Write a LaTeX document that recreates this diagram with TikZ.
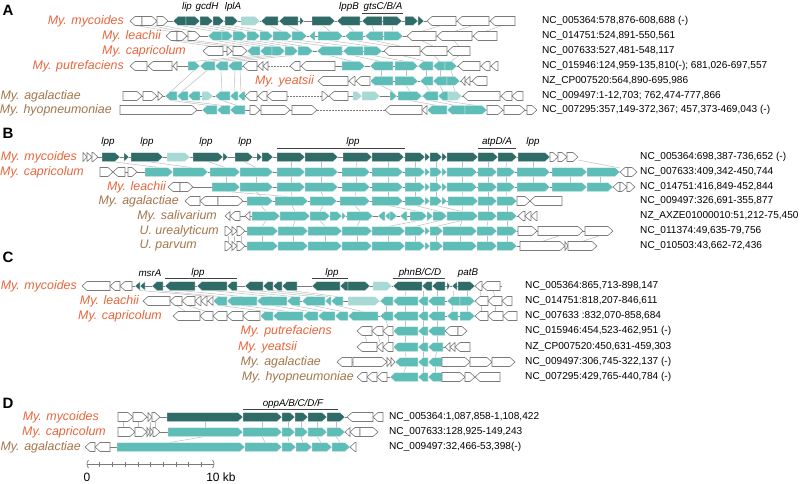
\documentclass[tikz,border=0pt]{standalone}
\usepackage{fontspec}
\setmainfont{Liberation Sans}
\definecolor{gdark}{HTML}{2F6B67}
\definecolor{gteal}{HTML}{5EBDB6}
\definecolor{gpale}{HTML}{A9D9D4}
\definecolor{gline}{HTML}{7A7A7A}
\definecolor{homc}{HTML}{BDBDBD}
\definecolor{orangec}{HTML}{E8653B}
\definecolor{brownc}{HTML}{A2764A}
\newcommand{\spfont}{\fontsize{12.4}{14}\selectfont\itshape}
\newcommand{\accfont}{\fontsize{10.1}{12}\selectfont}
\newcommand{\glfont}{\fontsize{9.8}{11}\selectfont\itshape}
\newcommand{\pfont}{\fontsize{15}{17}\selectfont\bfseries}
\newcommand{\gR}[4]{%
  \pgfmathsetmacro\gA{min(5,#2-#1)}%
  \path[#4] (#1,#3-4.5) -- (#2-\gA,#3-4.5) -- (#2,#3) -- (#2-\gA,#3+4.5) -- (#1,#3+4.5) -- cycle;}
\newcommand{\gL}[4]{%
  \pgfmathsetmacro\gA{min(5,#2-#1)}%
  \path[#4] (#2,#3-4.5) -- (#1+\gA,#3-4.5) -- (#1,#3) -- (#1+\gA,#3+4.5) -- (#2,#3+4.5) -- cycle;}
\newcommand{\grow}[2]{\foreach \xa/\xb/\xd/\xs in {#2}{\csname g\xd\endcsname{\xa}{\xb}{#1}{\xs}}}
\newcommand{\hlines}[3]{\foreach \ua/\la in {#3}{\draw[homl] (\ua,#1+4.5) -- (\la,#2-4.5);}}
\tikzset{
 gw/.style={fill=white,draw=gline,line width=0.6pt},
 gd/.style={fill=gdark,draw=white,line width=0.3pt},
 gt/.style={fill=gteal,draw=white,line width=0.3pt},
 gp/.style={fill=gpale,draw=white,line width=0.3pt},
 bb/.style={draw=gline,line width=0.6pt},
 bbd/.style={draw=gline,line width=0.6pt,dash pattern=on 1.5pt off 1.5pt},
 homl/.style={draw=homc,line width=0.5pt},
 spo/.style={font=\spfont,text=orangec,anchor=east,inner sep=1pt},
 spb/.style={font=\spfont,text=brownc,anchor=east,inner sep=1pt},
 acc/.style={font=\accfont,anchor=west,inner sep=0pt},
 glab/.style={font=\glfont,inner sep=0pt},
 panel/.style={font=\pfont,inner sep=0pt},
 glbar/.style={draw=black!75,line width=0.6pt}
}
\begin{document}
\begin{tikzpicture}[x=1pt,y=-1pt]
\useasboundingbox (0,0) rectangle (800,484);
%================ PANEL A =================
\node[panel] (pA) at (8,10) {A};
\node[glab] (lip) at (187,7) {lip};
\node[glab] (gcdH) at (207,7) {gcdH};
\node[glab] (lplA) at (233,7) {lplA};
\node[glab] (lppB) at (349,7) {lppB};
\node[glab] (gts) at (383,7) {gtsC/B/A};
\draw[glbar] (362,13.5) -- (403,13.5);
% homology lines
\hlines{21}{36}{136/171,150/182,162/194,180/215,193/228,206/240,218/253,231/266,270/282,288/300,323/330,348/354,372/374,392/393,441/421,473/454,502/485}
\hlines{36}{51}{171/213,182/230,194/240,215/253,228/266,240/278,253/291,266/305,282/330,300/353,330/372,354/392,374/402,421/434,454/459}
\hlines{51}{66}{253/194,266/207,278/221,291/235,329/353,353/381,373/406,402/426,434/440,459/451}
\hlines{66}{81}{381/381,406/406,426/426,440/440,451/453}
\hlines{66}{96}{194/171,207/182,221/222,235/234,240/241}
\hlines{81}{96}{381/393,406/410,426/430,440/443,453/455}
\hlines{96}{110}{171/209,182/223,222/237,410/437,430/456,443/476}
% backbones
\draw[bb] (130,21) -- (515,21);
\draw[bb] (166,36) -- (497,36);
\draw[bb] (203,51) -- (470,51);
\draw[bb] (130,66) -- (268,66); \draw[bbd] (268,66) -- (290,66); \draw[bb] (290,66) -- (498,66);
\draw[bb] (318,81) -- (487,81);
\draw[bb] (123,96) -- (287,96); \draw[bbd] (287,96) -- (322,96); \draw[bb] (322,96) -- (523,96);
\draw[bb] (120,110) -- (317,110); \draw[bbd] (317,110) -- (385,110); \draw[bb] (385,110) -- (537,110);
% genes
\grow{21}{130/142/L/gw,142/157/R/gw,157/168/R/gw,173/186/L/gd,186/200/R/gd,200/213/R/gd,213/224/R/gd,225/238/R/gd,241/260/R/gp,261/278/L/gd,279/298/L/gd,300/304/R/gd,312/335/R/gd,337/360/L/gd,362/382/L/gd,383/402/R/gd,405/418/R/gd,418/424/R/gd,427/456/L/gw,457/489/L/gw,490/515/L/gw}
\grow{36}{166/177/L/gw,177/187/R/gw,188/200/R/gw,208/222/L/gt,222/233/R/gt,233/247/R/gt,247/260/R/gt,260/273/R/gt,273/292/R/gt,292/307/R/gt,309/315/L/gt,318/343/R/gt,345/363/L/gt,365/383/L/gt,384/403/R/gt,407/436/L/gw,437/472/L/gw,473/497/L/gw}
\grow{51}{203/223/L/gw,227/232/R/gw,233/247/R/gw,247/260/L/gt,260/272/L/gt,272/285/R/gt,285/298/R/gt,298/313/R/gt,317/342/L/gt,343/363/L/gt,364/382/R/gt,384/420/L/gw,421/447/L/gw,448/470/L/gw}
\grow{66}{130/147/L/gw,148/172/L/gw,173/177/L/gw,188/200/R/gt,200/215/L/gt,215/228/L/gt,228/242/L/gt,243/257/L/gw,258/263/L/gw,263/268/L/gw,290/300/L/gw,301/335/L/gw,342/365/R/gt,370/393/L/gt,395/418/R/gt,418/433/L/gt,433/445/L/gt,445/457/R/gt,458/480/L/gw,481/490/L/gw,491/498/L/gw}
\grow{81}{318/348/L/gw,349/355/L/gw,356/370/L/gw,370/393/L/gt,395/418/R/gt,420/433/L/gt,433/447/L/gt,447/460/R/gt,461/465/L/gw,465/470/L/gw,472/487/L/gw}
\grow{96}{123/142/R/gw,143/157/R/gw,158/163/R/gw,165/177/L/gt,177/188/L/gt,188/200/L/gt,202/213/R/gp,215/230/L/gt,230/238/L/gt,238/245/L/gt,245/257/L/gw,258/267/L/gw,267/287/L/gw,322/328/R/gw,329/348/L/gw,353/362/R/gp,362/380/R/gp,390/397/R/gt,398/422/R/gt,422/438/L/gt,438/448/L/gt,448/462/R/gp,463/500/L/gw,501/512/L/gw,512/523/L/gw}
\grow{110}{120/197/R/gw,202/217/L/gt,217/230/L/gt,230/245/L/gt,250/260/R/gw,261/290/R/gw,292/317/R/gw,385/422/L/gw,422/427/L/gw,427/447/L/gt,447/465/L/gt,465/487/R/gt,487/503/R/gw,504/525/R/gw,527/537/R/gw}
% labels
\node[spo] (Amyc) at (125,21) {My. mycoides};
\node[spo] (Alea) at (162,36) {My. leachii};
\node[spo] (Acap) at (187,51) {My. capricolum};
\node[spo] (Aput) at (125,66) {My. putrefaciens};
\node[spo] (Ayea) at (315,81) {My. yeatsii};
\node[spb] (Aaga) at (82,96) {My. agalactiae};
\node[spb] (Ahyo) at (113,110) {My. hyopneumoniae};
\node[acc] (aA1) at (542,21) {NC\_005364:578,876-608,688 (-)};
\node[acc] (aA2) at (542,36) {NC\_014751:524,891-550,561};
\node[acc] (aA3) at (542,51) {NC\_007633:527,481-548,117};
\node[acc] (aA4) at (542,66) {NC\_015946:124,959-135,810(-); 681,026-697,557};
\node[acc] (aA5) at (542,81) {NZ\_CP007520:564,890-695,986};
\node[acc] (aA6) at (542,96) {NC\_009497:1-12,703; 762,474-777,866};
\node[acc] (aA7) at (542,110) {NC\_007295:357,149-372,367; 457,373-469,043 (-)};
%================ PANEL B =================
\node[panel] (pB) at (8,133) {B};
\node[glab] (lpp1) at (108,142) {lpp};
\node[glab] (lpp2) at (147,142) {lpp};
\node[glab] (lpp3) at (206,142) {lpp};
\node[glab] (lpp4) at (245,142) {lpp};
\node[glab] (lpp5) at (353,142) {lpp};
\draw[glbar] (277,148.5) -- (405,148.5);
\node[glab] (atp) at (497,142) {atpD/A};
\draw[glbar] (478,148.5) -- (516,148.5);
\node[glab] (lpp6) at (533,142) {lpp};
\hlines{157}{172}{111/159,147/191,208/225,244/256,291/291,321/321,357/356,388/388,415/415,436/436,462/462,488/488,507/506,533/533}
\draw[homl] (578,160) -- (620,168);
\hlines{172}{187}{226/226,256/256,291/291,321/321,356/356,388/388,415/415,436/436,462/462,488/488,506/506,533/533,570/570,600/600}
\hlines{187}{201}{226/287,256/261,291/292,321/323,356/355,388/388,415/415,436/436,462/463,488/488,506/507}
\hlines{201}{216}{261/266,292/295,323/320,355/360,388/419,415/440,436/462,463/462,488/488,507/507}
\hlines{216}{231}{266/262,295/293,320/325,360/357,419/388,440/415,462/436,462/460,488/487,507/507}
\hlines{231}{246}{228/228,234/234,241/241,262/262,293/293,325/325,357/357,388/388,415/415,436/436,460/460,487/487,507/507,560/542,600/582}
\draw[bb] (83,157) -- (578,157);
\draw[bb] (100,172) -- (637,172);
\draw[bb] (168,187) -- (635,187);
\draw[bb] (185,201) -- (562,201);
\draw[bb] (225,216) -- (537,216);
\draw[bb] (225,231) -- (613,231);
\draw[bb] (225,246) -- (597,246);
\grow{157}{83/87/R/gw,87/92/R/gw,92/98/R/gw,102/120/R/gd,124/129/R/gd,131/163/R/gd,167/190/R/gp,193/223/R/gd,223/228/R/gd,235/253/R/gd,257/262/R/gd,262/273/R/gd,277/305/R/gd,305/338/R/gd,343/372/R/gd,372/404/R/gd,405/425/R/gd,425/430/R/gd,430/442/R/gd,442/447/R/gd,447/478/R/gd,478/498/R/gd,498/517/R/gd,518/550/R/gd,550/558/R/gw,558/567/R/gw,567/578/R/gw}
\grow{172}{100/113/R/gw,113/125/L/gw,128/137/R/gw,145/173/R/gt,173/208/R/gt,210/240/R/gt,240/273/R/gt,277/305/R/gt,305/338/R/gt,342/370/R/gt,372/403/R/gt,405/425/R/gt,425/430/R/gt,430/442/R/gt,442/447/R/gt,447/477/R/gt,478/497/R/gt,497/515/R/gt,517/550/R/gt,552/587/R/gt,587/620/R/gt,620/628/L/gw,628/637/R/gw}
\grow{187}{168/180/L/gw,180/193/R/gw,212/240/R/gt,240/273/R/gt,277/305/R/gt,305/338/R/gt,342/370/R/gt,372/403/R/gt,405/425/R/gt,425/430/R/gt,430/442/R/gt,442/447/R/gt,447/477/R/gt,478/497/R/gt,497/515/R/gt,517/550/R/gt,552/587/R/gt,587/613/R/gt,613/620/L/gw,620/627/R/gw,627/635/R/gw}
\grow{201}{185/200/L/gw,200/218/L/gw,218/243/R/gw,247/273/R/gt,275/308/R/gt,310/337/R/gt,340/370/R/gt,372/403/R/gt,405/425/R/gt,425/430/R/gt,430/442/R/gt,442/447/R/gt,448/478/R/gt,478/497/R/gt,497/517/R/gt,517/530/R/gw,530/562/L/gw}
\grow{216}{225/230/L/gw,230/240/L/gw,245/250/L/gw,252/280/R/gt,280/310/R/gt,310/330/R/gt,330/342/R/gt,342/346/R/gt,347/373/R/gt,378/385/L/gt,385/390/L/gt,390/397/R/gt,400/407/L/gt,410/427/R/gt,427/433/R/gt,433/447/R/gt,447/478/R/gt,478/497/R/gt,497/517/R/gt,518/525/L/gw,525/531/L/gw,531/537/L/gw}
\grow{231}{225/232/R/gw,232/237/R/gw,237/245/R/gw,247/278/R/gt,278/308/R/gt,308/342/R/gt,342/372/R/gt,372/405/R/gt,405/425/R/gt,425/430/R/gt,430/443/R/gt,443/477/R/gt,477/497/R/gt,497/517/R/gt,518/537/R/gw,538/583/R/gw,585/613/R/gw}
\grow{246}{225/232/R/gw,232/237/R/gw,237/245/R/gw,247/278/R/gt,278/308/R/gt,308/342/R/gt,342/372/R/gt,372/405/R/gt,405/425/R/gt,425/430/R/gt,430/443/R/gt,443/477/R/gt,477/497/R/gt,497/517/R/gt,520/565/R/gw,565/568/R/gw,568/597/R/gw}
\node[spo] (Bmyc) at (78,157) {My. mycoides};
\node[spo] (Bcap) at (85,172) {My. capricolum};
\node[spo] (Blea) at (167,187) {My. leachii};
\node[spb] (Baga) at (180,201) {My. agalactiae};
\node[spb] (Bsal) at (218,216) {My. salivarium};
\node[spb] (Bure) at (220,231) {U. urealyticum};
\node[spb] (Bpar) at (198,246) {U. parvum};
\node[acc] (aB1) at (640,157) {NC\_005364:698,387-736,652 (-)};
\node[acc] (aB2) at (640,172) {NC\_007633:409,342-450,744};
\node[acc] (aB3) at (640,187) {NC\_014751:416,849-452,844};
\node[acc] (aB4) at (640,201) {NC\_009497:326,691-355,877};
\node[acc] (aB5) at (640,216) {NZ\_AXZE01000010:51,212-75,450};
\node[acc] (aB6) at (640,231) {NC\_011374:49,635-79,756};
\node[acc] (aB7) at (640,246) {NC\_010503:43,662-72,436};
%================ PANEL C =================
\node[panel] (pC) at (8,257) {C};
\node[glab] (msrA) at (150,273) {msrA};
\node[glab] (clpp1) at (198,273) {lpp};
\draw[glbar] (165,278.5) -- (237,278.5);
\node[glab] (clpp2) at (332,273) {lpp};
\draw[glbar] (312,278.5) -- (348,278.5);
\node[glab] (phn) at (420,273) {phnB/C/D};
\draw[glbar] (393,278.5) -- (445,278.5);
\node[glab] (patB) at (468,273) {patB};
\hlines{286}{301}{140/210,157/220,180/242,211/272,232/293,254/313,272/328,290/337,406/405,423/423,437/437,454/453,467/467,480/481,493/495}
\hlines{301}{316}{176/186,188/206,220/266,242/288,272/310,293/326,313/342,337/363,386/386,405/405,423/423,437/437,453/452,467/467,481/481,495/495}
\hlines{316}{331}{386/388,405/405,423/423,437/437}
\hlines{331}{347}{365/367,378/380,388/388,405/405,423/423,437/437}
\hlines{347}{362}{405/406,423/423,437/435}
\hlines{362}{377}{406/404,423/423,435/435}
\draw[bb] (82,286) -- (502,286);
\draw[bb] (143,301) -- (512,301);
\draw[bb] (173,316) -- (517,316);
\draw[bb] (357,331) -- (467,331);
\draw[bb] (357,347) -- (470,347);
\draw[bb] (337,362) -- (515,362);
\draw[bb] (357,377) -- (500,377);
\grow{286}{82/110/L/gw,110/120/L/gw,120/132/L/gw,135/140/L/gd,140/145/L/gd,152/163/L/gd,165/195/L/gd,197/227/L/gd,227/237/L/gd,245/263/L/gd,263/273/L/gd,273/282/L/gd,282/297/L/gd,312/340/L/gd,340/348/L/gd,348/370/R/gd,373/392/R/gp,393/422/L/gd,422/432/L/gd,432/445/L/gd,447/450/R/gd,452/457/L/gd,458/475/R/gd,475/482/L/gw,482/500/L/gw}
\grow{301}{143/170/L/gw,170/182/L/gw,182/195/L/gw,195/201/L/gw,201/207/L/gw,208/213/L/gw,213/227/L/gt,227/257/L/gt,257/287/L/gt,287/300/L/gt,302/325/L/gt,325/331/L/gt,331/343/L/gt,348/380/R/gp,380/393/L/gt,393/418/L/gt,418/428/L/gt,428/445/L/gt,447/460/L/gt,460/475/R/gt,475/488/L/gw,488/502/L/gw,502/512/L/gw}
\grow{316}{173/200/L/gw,200/213/L/gw,213/227/L/gw,227/243/L/gw,243/260/L/gw,260/273/L/gt,273/303/L/gt,303/318/L/gt,318/335/L/gt,335/348/L/gt,348/378/L/gt,380/393/L/gt,393/418/L/gt,418/428/L/gt,428/445/L/gt,447/458/L/gt,460/475/R/gt,475/488/L/gw,488/503/L/gw,503/517/L/gw}
\grow{331}{357/372/L/gw,372/383/L/gw,383/393/L/gw,393/418/L/gt,418/428/L/gt,428/445/L/gt,445/458/L/gw,458/467/R/gw}
\grow{347}{357/377/L/gw,377/383/L/gw,383/393/L/gw,393/418/L/gt,418/428/L/gt,428/443/L/gt,445/450/L/gw,450/455/L/gw,455/470/L/gw}
\grow{362}{337/352/L/gw,353/387/R/gw,387/391/R/gw,391/395/R/gw,395/418/L/gt,418/428/L/gt,428/442/L/gt,442/470/R/gw,470/492/R/gw,492/515/R/gw}
\grow{377}{357/367/L/gw,367/377/L/gw,377/387/L/gw,390/418/L/gt,418/428/L/gt,428/442/L/gt,442/465/R/gw,465/475/R/gw,475/500/L/gw}
\node[spo] (Cmyc) at (78,286) {My. mycoides};
\node[spo] (Clea) at (140,301) {My. leachii};
\node[spo] (Ccap) at (163,316) {My. capricolum};
\node[spo] (Cput) at (333,331) {My. putrefaciens};
\node[spo] (Cyea) at (298,347) {My. yeatsii};
\node[spb] (Caga) at (322,362) {My. agalactiae};
\node[spb] (Chyo) at (355,377) {My. hyopneumoniae};
\node[acc] (aC1) at (525,286) {NC\_005364:865,713-898,147};
\node[acc] (aC2) at (525,301) {NC\_014751:818,207-846,611};
\node[acc] (aC3) at (525,316) {NC\_007633 :832,070-858,684};
\node[acc] (aC4) at (525,331) {NC\_015946:454,523-462,951 (-)};
\node[acc] (aC5) at (525,347) {NZ\_CP007520:450,631-459,303};
\node[acc] (aC6) at (525,362) {NC\_009497:306,745-322,137 (-)};
\node[acc] (aC7) at (525,377) {NC\_007295:429,765-440,784 (-)};
%================ PANEL D =================
\node[panel] (pD) at (8,403) {D};
\node[glab] (opp) at (293,404) {oppA/B/C/D/F};
\draw[glbar] (243,409.5) -- (338,409.5);
\hlines{417}{432}{123/123,138/138,150/150,155/155,205/205,262/262,288/288,301/301,317/317,336/336}
\hlines{432}{447}{205/170,262/265,288/289,301/303,317/321,336/340}
\draw[bb] (118,417) -- (383,417);
\draw[bb] (118,432) -- (378,432);
\draw[bb] (85,447) -- (356,447);
\grow{417}{118/133/R/gw,133/147/R/gw,148/152/R/gw,152/160/R/gw,167/243/R/gd,243/282/R/gd,282/295/R/gd,295/308/R/gd,308/327/R/gd,327/345/R/gd,347/373/L/gw,373/383/L/gw}
\grow{432}{118/135/R/gw,135/147/R/gw,147/150/R/gw,150/153/R/gw,153/160/R/gw,168/243/R/gt,243/282/R/gt,282/295/R/gt,295/308/R/gt,308/327/R/gt,327/345/R/gt,345/350/L/gw,350/360/L/gw,360/378/R/gw}
\grow{447}{85/95/L/gw,95/110/L/gw,117/245/R/gt,245/282/R/gt,282/296/R/gt,296/312/R/gt,312/332/R/gt,332/350/R/gt,350/356/L/gw}
\node[spo] (Dmyc) at (100,417) {My. mycoides};
\node[spo] (Dcap) at (107,432) {My. capricolum};
\node[spb] (Daga) at (82,447) {My. agalactiae};
\node[acc] (aD1) at (389,417) {NC\_005364:1,087,858-1,108,422};
\node[acc] (aD2) at (389,432) {NC\_007633:128,925-149,243};
\node[acc] (aD3) at (389,447) {NC\_009497:32,466-53,398(-)};
% scale bar
\coordinate (s0) at (87,464);
\coordinate (s1) at (214,464);
\draw[draw=gline,line width=0.7pt] (s0) -- (s1);
\foreach \k in {1,...,9}{\draw[draw=gline,line width=0.6pt] (87+12.7*\k,461.5) -- (87+12.7*\k,466.5);}
\draw[draw=gline,line width=0.7pt] (88.5,460) .. controls (86.5,462) and (86.5,466) .. (88.5,468);
\draw[draw=gline,line width=0.7pt] (212.5,460) .. controls (214.5,462) and (214.5,466) .. (212.5,468);
\node[font=\fontsize{12}{14}\selectfont,inner sep=0pt] (s0l) at (87,477) {0};
\node[font=\fontsize{12}{14}\selectfont,inner sep=0pt] (s1l) at (221,477) {10 kb};
\end{tikzpicture}
\end{document}
